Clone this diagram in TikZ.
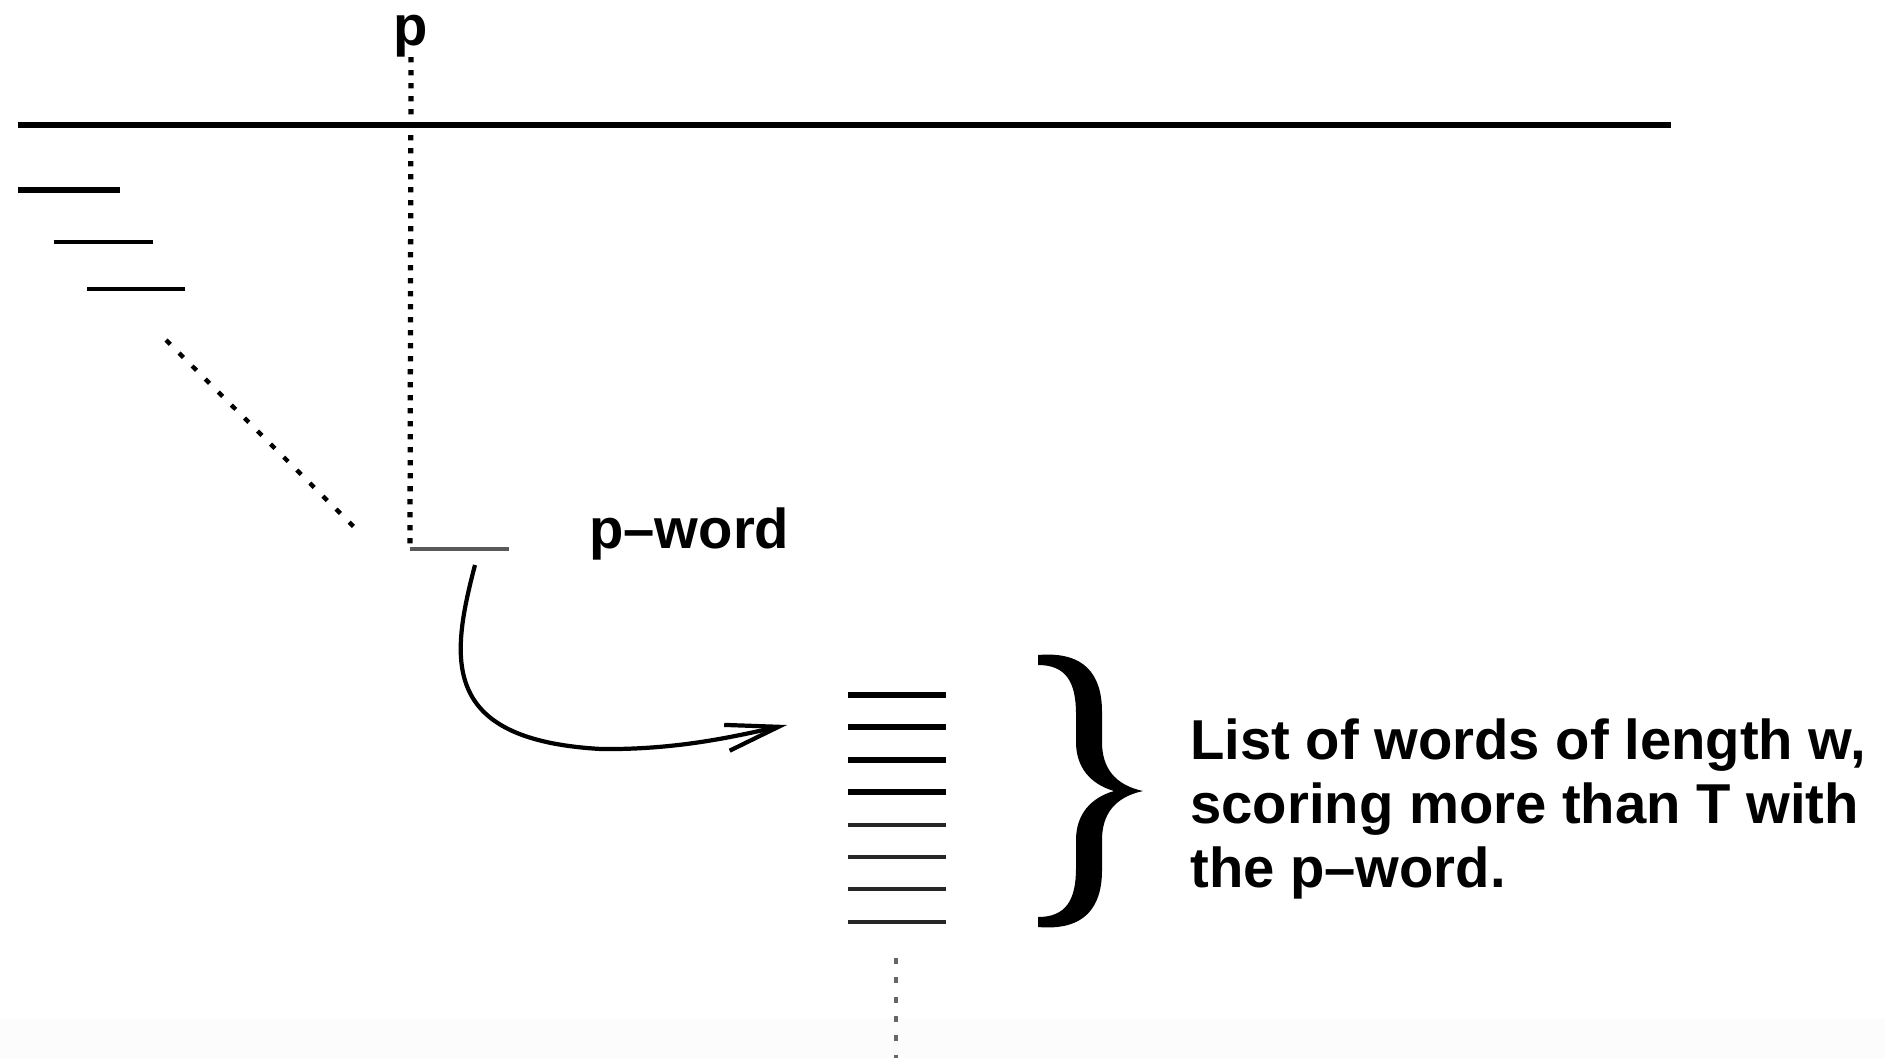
\documentclass[tikz,border=0pt]{standalone}
\usepackage{fontspec}
\setmainfont{Liberation Sans}
\usetikzlibrary{arrows.meta}
\begin{document}
\begin{tikzpicture}[x=0.02cm,y=-0.02cm,
  lbl/.style={font=\bfseries\fontsize{32}{36.4}\selectfont, inner sep=0pt},
  thickrule/.style={line width=3.5pt},
  thinrule/.style={line width=2pt},
  listthin/.style={line width=2.2pt, black!85},
  pwrule/.style={line width=2pt, black!65},
  dotline/.style={line width=3pt, dash pattern=on 3pt off 4.4pt},
  diagdots/.style={line width=2.5pt, dash pattern=on 3.5pt off 7pt},
  lowdots/.style={line width=2.8pt, black!60, dash pattern=on 3.5pt off 7.5pt},
  arrowline/.style={line width=2.4pt, -{Straight Barb[length=30pt,width=15pt,line width=2.4pt]}}
]
\useasboundingbox (0,0) rectangle (1885,1058);
\fill[white] (0,0) rectangle (1885,1058);
\fill[black!1] (0,1018) rectangle (1885,1058);

% main sequence line
\coordinate (seqL) at (18,125);
\coordinate (seqR) at (1671,125);
\draw[thickrule] (seqL) -- (seqR);

% p label and its dotted drop line
\node[lbl, anchor=base] (p) at (411,45) {p};
\coordinate (pwL) at (410,549);
\coordinate (pwR) at (509,549);
\draw[dotline] (p.south) -- (pwL);
\draw[pwrule] (pwL) -- (pwR);
\node[lbl, anchor=base west] (pword) at (589,548) {p\textendash word};

% left stack of words
\coordinate (a1L) at (18,190);  \coordinate (a1R) at (120,190);
\coordinate (a2L) at (54,242);  \coordinate (a2R) at (153,242);
\coordinate (a3L) at (87,289);  \coordinate (a3R) at (185,289);
\draw[thickrule] (a1L) -- (a1R);
\draw[thinrule] (a2L) -- (a2R);
\draw[thinrule] (a3L) -- (a3R);
\coordinate (d1) at (166,340);
\coordinate (d2) at (356,529);
\draw[diagdots] (d1) -- (d2);

% curved arrow
\coordinate (arrS) at (475,565);
\coordinate (arrE) at (787,725);
\draw[arrowline] (arrS) .. controls (450,660) and (440,740) .. (601,749)
  .. controls (680,750) and (740,735) .. (arrE);

% list of words
\foreach \k in {0,1,2,3} {
  \draw[thickrule] (848,{695+32.4*\k}) -- (946,{695+32.4*\k});
}
\foreach \k in {4,5,6,7} {
  \draw[listthin] (848,{695+32.4*\k}) -- (946,{695+32.4*\k});
}
\coordinate (lowT) at (896,958);
\coordinate (lowB) at (896,1058);
\draw[lowdots] (lowT) -- (lowB);

% brace
\fill[black] (1038,655)
  .. controls (1085,651) and (1102,675) .. (1102,712) -- (1102,742)
  .. controls (1102,768) and (1115,785) .. (1143,791)
  .. controls (1115,797) and (1102,814) .. (1102,840) -- (1102,870)
  .. controls (1102,907) and (1085,931) .. (1038,927)
  -- (1038,917)
  .. controls (1066,917) and (1076,900) .. (1076,868) -- (1076,840)
  .. controls (1076,815) and (1090,798) .. (1114,791)
  .. controls (1090,784) and (1076,767) .. (1076,742) -- (1076,714)
  .. controls (1076,682) and (1066,665) .. (1038,665) -- cycle;

% description
\node[lbl, anchor=base west] (desc1) at (1190,759) {List of words of length w,};
\node[lbl, anchor=base west] (desc2) at (1190,823) {scoring more than T with};
\node[lbl, anchor=base west] (desc3) at (1190,887) {the p\textendash word.};
\end{tikzpicture}
\end{document}
